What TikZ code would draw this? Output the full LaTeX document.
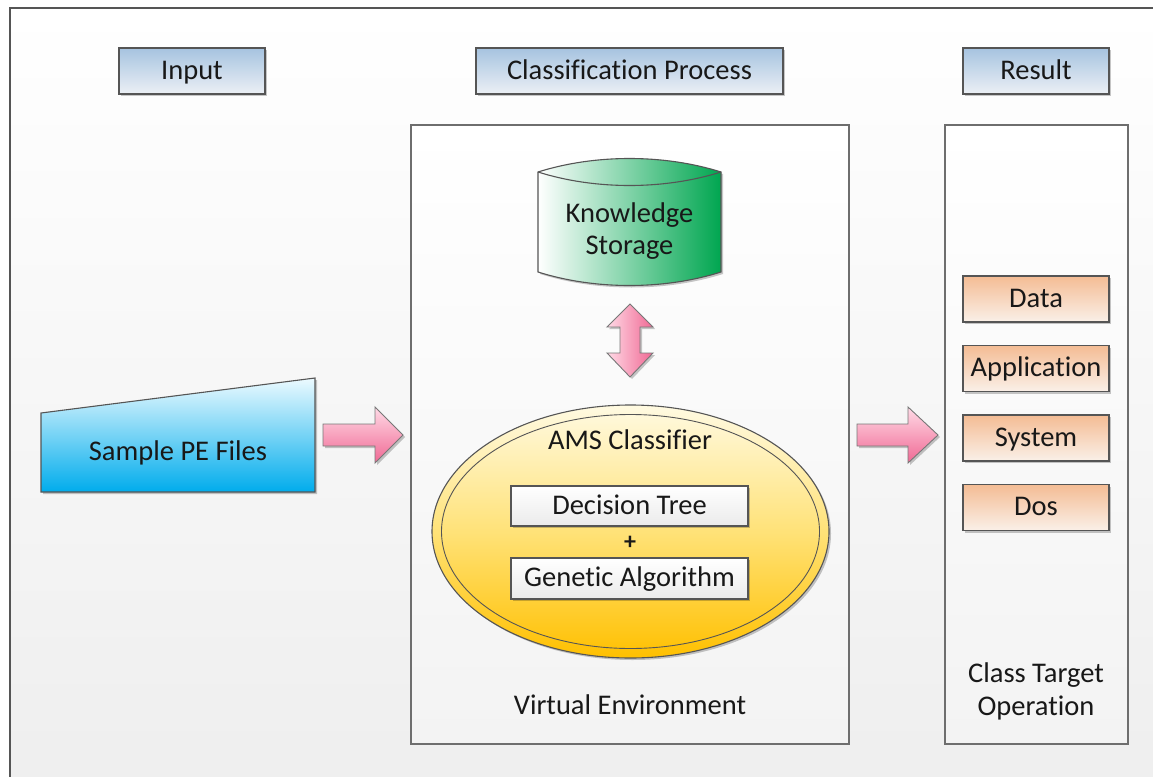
\documentclass[tikz,border=0pt]{standalone}
\usepackage{fontspec}
\setmainfont[Ligatures=NoCommon]{Carlito}
\usetikzlibrary{shadows,shapes.geometric}

\definecolor{hdrtop}{RGB}{166,195,224}
\definecolor{hdrbot}{RGB}{236,240,245}
\definecolor{edge}{RGB}{85,85,85}
\definecolor{peachtop}{RGB}{244,188,148}
\definecolor{peachbot}{RGB}{250,240,232}
\definecolor{pinklight}{RGB}{255,218,230}
\definecolor{pinkdark}{RGB}{240,105,148}
\definecolor{cyantop}{RGB}{236,250,255}
\definecolor{cyanbot}{RGB}{0,172,236}
\definecolor{goldtop}{RGB}{255,250,226}
\definecolor{goldmid}{RGB}{255,226,120}
\definecolor{goldbot}{RGB}{255,192,0}
\definecolor{greenR}{RGB}{0,166,80}
\definecolor{ink}{RGB}{24,24,24}
\definecolor{bgbot}{RGB}{238,238,238}
\definecolor{panelbot}{RGB}{243,243,243}

\tikzset{
  txt/.style={text height=22pt, text depth=6pt},
  softshadow/.style={drop shadow={shadow xshift=2pt, shadow yshift=-2pt, opacity=0.22, fill=black}},
  header/.style={txt, draw=edge, line width=1.2pt, top color=hdrtop, bottom color=hdrbot,
    minimum height=46pt, inner sep=0pt, softshadow},
  panel/.style={draw=edge!85, line width=1.3pt, top color=white, bottom color=panelbot,
    inner sep=0pt},
  target/.style={txt, draw=edge, line width=1.2pt, top color=peachtop, bottom color=peachbot,
    minimum width=146pt, minimum height=46pt, inner sep=0pt, softshadow},
  algbox/.style={txt, draw=edge, line width=1.1pt, top color=white, bottom color=black!8,
    minimum width=237pt, minimum height=40pt, inner sep=0pt, softshadow},
  blockarrow/.style={draw=edge!80, line width=0.9pt, top color=pinklight, bottom color=pinkdark,
    line join=miter, softshadow},
}

\begin{document}
\begin{tikzpicture}[x=1pt, y=-1pt, font=\fontsize{28.5}{32.5}\selectfont, text=ink]
\useasboundingbox (0,0) rectangle (1153,776);

% page frame with a soft vertical gradient
\draw[edge, line width=1.5pt, top color=white, bottom color=bgbot] (10,8) rectangle (1175,800);

% column headers
\node[header, minimum width=146pt] (hin)  at (192,71)    {Input};
\node[header, minimum width=307pt] (hcls) at (629.5,71)  {Classification Process};
\node[header, minimum width=146pt] (hres) at (1036,71)   {Result};

% panels
\node[panel, minimum width=438pt, minimum height=619pt] (venv) at (630,434.5) {};
\node[panel, minimum width=183pt, minimum height=619pt] (rpanel) at (1036.5,434.5) {};
\node[txt] (venvlbl) at (630,706) {Virtual Environment};
\node[align=center] (ctop) at (1036,691.5) {Class Target\\Operation};

% input document shape
\draw[edge, line width=1.1pt, top color=cyantop, bottom color=cyanbot, softshadow]
  (41,413) -- (315,378) -- (315,492) -- (41,492) -- cycle;
\node[txt] (pe) at (178,452) {Sample PE Files};

% knowledge storage cylinder
\draw[edge, line width=1.1pt, left color=white, right color=greenR, softshadow]
  (538,172) -- (538,272)
  .. controls (595,290) and (664,290) .. (721,272)
  -- (721,172)
  .. controls (664,154) and (595,154) .. (538,172) -- cycle;
\draw[edge, line width=1.1pt] (538,172) .. controls (595,190) and (664,190) .. (721,172);
\node[align=center] (ks) at (629.5,231) {Knowledge\\Storage};

% two-way arrow between storage and classifier
\draw[draw=edge!80, line width=0.9pt, left color=pinklight, right color=pinkdark, line join=miter, softshadow]
  (630,304) -- (653,327) -- (640,327) -- (640,353) -- (653,353) -- (630,377)
  -- (607,353) -- (620,353) -- (620,327) -- (607,327) -- cycle;

% AMS classifier
\node[ellipse, draw=edge, line width=1.1pt, minimum width=397pt, minimum height=253pt,
  top color=goldtop, bottom color=goldbot, middle color=goldmid, softshadow] (ams) at (630.5,531.5) {};
\draw[edge, line width=0.9pt] (ams.center) ellipse (189pt and 117pt);
\node[txt] (amslbl) at (630,441) {AMS Classifier};
\node[algbox] (dt) at (629.5,506) {Decision Tree};
\node[font=\fontsize{24}{26}\selectfont\bfseries] (plus) at (630,543) {+};
\node[algbox, minimum height=41pt] (ga) at (629.5,578.5) {Genetic Algorithm};

% flow arrows
\draw[blockarrow]
  (323,424) -- (375,424) -- (375,407) -- (403,435) -- (375,463) -- (375,446) -- (323,446) -- cycle;
\draw[blockarrow]
  (857,424) -- (908,424) -- (908,407) -- (938,435) -- (908,463) -- (908,446) -- (857,446) -- cycle;

% class targets
\node[target] (tdata) at (1036,299)   {Data};
\node[target] (tapp)  at (1036,368.5) {Application};
\node[target] (tsys)  at (1036,438)   {System};
\node[target] (tdos)  at (1036,507.5) {Dos};
\end{tikzpicture}
\end{document}
